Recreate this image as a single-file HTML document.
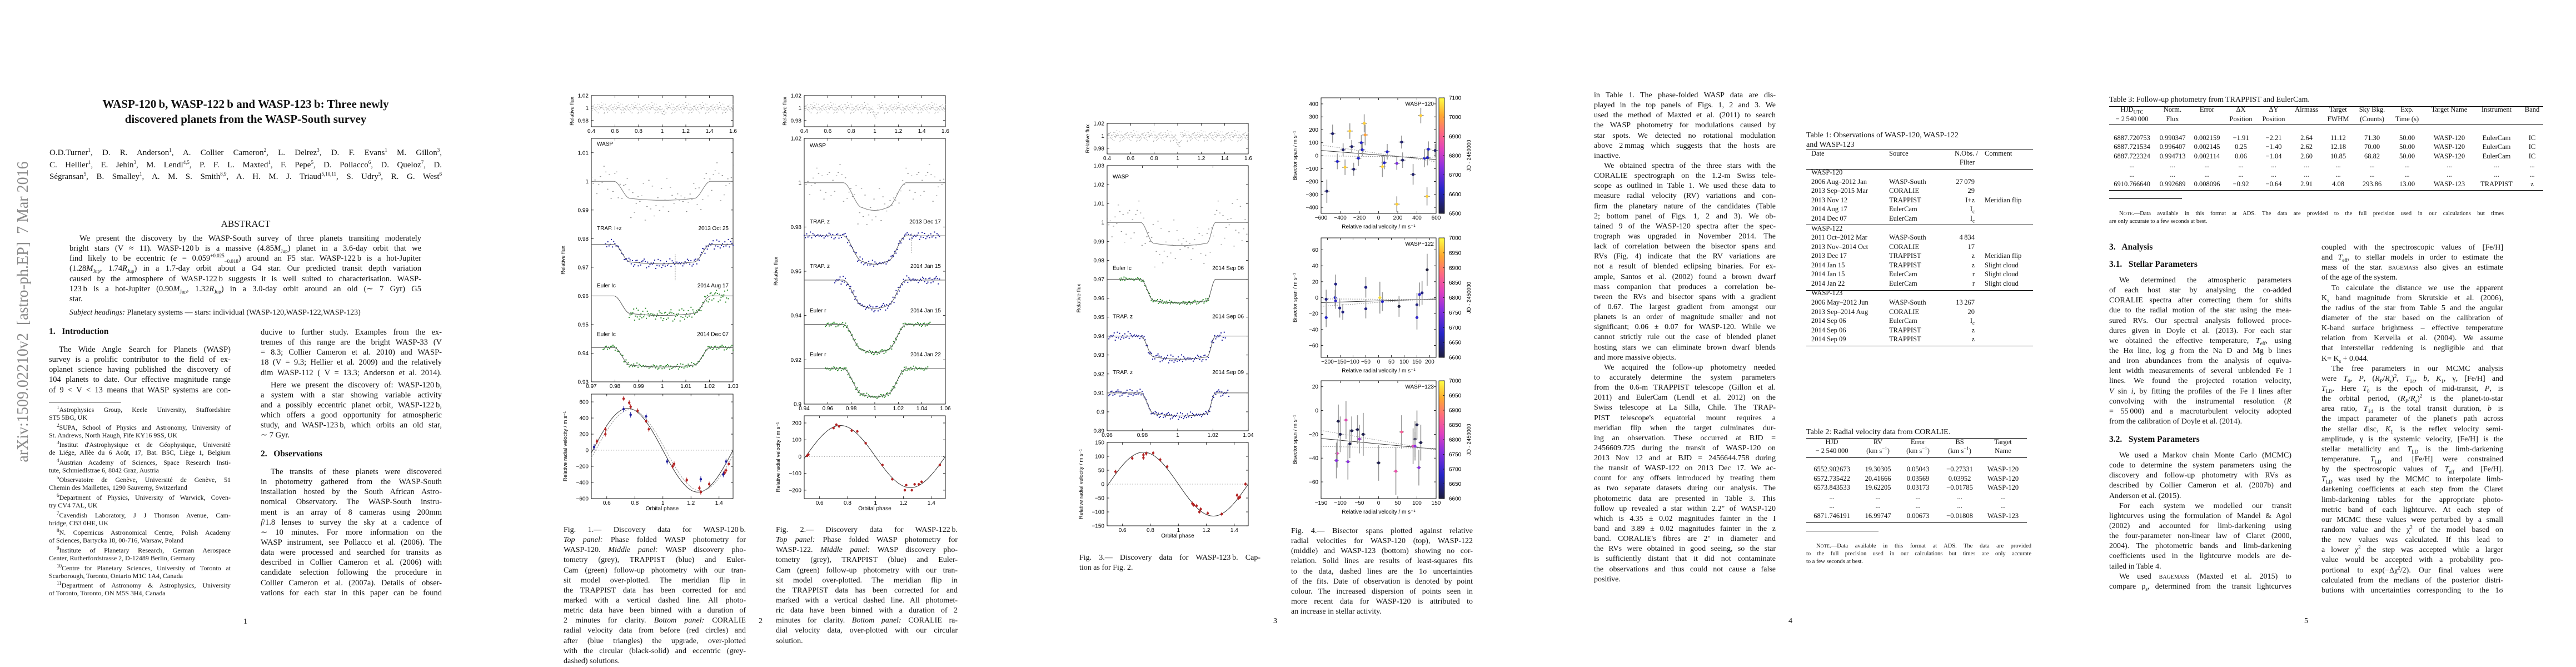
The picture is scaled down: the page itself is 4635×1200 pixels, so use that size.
<!DOCTYPE html>
<html><head><meta charset="utf-8">
<style>
html,body{margin:0;padding:0;background:#fff;}
body{width:4635px;height:1200px;position:relative;overflow:hidden;font-family:"Liberation Serif",serif;color:#111;}
.page{position:absolute;top:0;height:1200px;}
.a{position:absolute;white-space:nowrap;}
.col{position:absolute;}
.l{height:18.15px;line-height:18.15px;text-align:justify;text-align-last:justify;overflow:hidden;font-size:14px;}
.p1 .l{font-size:14.5px;}
.e{text-align-last:left;}
.i{text-indent:18px;}
.fn{position:absolute;left:88px;width:327px;font-size:12px;}
.fn div{height:14.3px;line-height:14.3px;text-align:justify;text-align-last:justify;overflow:hidden;}
.fn div.e{text-align-last:left;}
.fn div.i{text-indent:14px;}
.h{font-weight:bold;font-size:15.5px;}
.pn{font-size:14px;}
.c{position:absolute;transform:translateX(-50%);white-space:nowrap;font-size:12.5px;}
.r{position:absolute;transform:translateX(-100%);white-space:nowrap;font-size:12.5px;}
.tl{position:absolute;white-space:nowrap;font-size:12.5px;}
.rule{position:absolute;height:0;border-top:1px solid #000;}
.rule2{position:absolute;height:0;border-top:1.5px solid #000;}
.note{position:absolute;font-size:10.5px;}
.note div{height:14.5px;line-height:14.5px;text-align:justify;text-align-last:justify;}
.note div.e{text-align-last:left;}
sup{font-size:9px;line-height:0;}
sub{font-size:9px;line-height:0;}
</style></head>
<body>

<!-- PAGE 1 -->
<div class="page p1" style="left:0;width:900px;">
  <div class="a" style="left:-250px;top:544px;width:584px;height:34px;line-height:34px;text-align:center;font-size:28px;color:#8a8a8a;transform:rotate(-90deg);">arXiv:1509.02210v2&nbsp; [astro-ph.EP]&nbsp; 7 Mar 2016</div>
  <div class="a" style="left:0;width:884px;top:174px;text-align:center;font-size:21px;line-height:27px;font-weight:bold;">WASP-120&#8201;b, WASP-122&#8201;b and WASP-123&#8201;b: Three newly<br>discovered planets from the WASP-South survey</div>
  <div class="col" style="left:89px;top:265px;width:706px;">
    <div class="l" style="height:21.5px;line-height:21.5px;font-size:15px;">O.D.Turner<sup>1</sup>, D. R. Anderson<sup>1</sup>, A. Collier Cameron<sup>2</sup>, L. Delrez<sup>3</sup>, D. F. Evans<sup>1</sup> M. Gillon<sup>3</sup>,</div>
    <div class="l" style="height:21.5px;line-height:21.5px;font-size:15px;">C. Hellier<sup>1</sup>, E. Jehin<sup>3</sup>, M. Lendl<sup>4,5</sup>, P. F. L. Maxted<sup>1</sup>, F. Pepe<sup>5</sup>, D. Pollacco<sup>6</sup>, D. Queloz<sup>7</sup>, D.</div>
    <div class="l" style="height:21.5px;line-height:21.5px;font-size:15px;">Ségransan<sup>5</sup>, B. Smalley<sup>1</sup>, A. M. S. Smith<sup>8,9</sup>, A. H. M. J. Triaud<sup>5,10,11</sup>, S. Udry<sup>5</sup>, R. G. West<sup>6</sup></div>
  </div>
  <div class="a" style="left:0;width:884px;top:393px;text-align:center;font-size:17px;">ABSTRACT</div>
  <div class="col" style="left:125px;top:420px;width:633px;">
    <div class="l i">We present the discovery by the WASP-South survey of three planets transiting moderately</div>
    <div class="l">bright stars (V &#8776; 11). WASP-120&#8201;b is a massive (4.85<i>M</i><sub>Jup</sub>) planet in a 3.6-day orbit that we</div>
    <div class="l">find likely to be eccentric (<i>e</i> = 0.059<sup>+0.025</sup><sub>&#8722;0.018</sub>) around an F5 star. WASP-122&#8201;b is a hot-Jupiter</div>
    <div class="l">(1.28<i>M</i><sub>Jup</sub>, 1.74<i>R</i><sub>Jup</sub>) in a 1.7-day orbit about a G4 star. Our predicted transit depth variation</div>
    <div class="l">caused by the atmosphere of WASP-122&#8201;b suggests it is well suited to characterisation. WASP-</div>
    <div class="l">123&#8201;b is a hot-Jupiter (0.90<i>M</i><sub>Jup</sub>, 1.32<i>R</i><sub>Jup</sub>) in a 3.0-day orbit around an old (&#8764; 7 Gyr) G5</div>
    <div class="l e">star.</div>
  </div>
  <div class="a" style="left:125px;top:555px;font-size:14px;"><i>Subject headings:</i> Planetary systems — stars: individual (WASP-120,WASP-122,WASP-123)</div>
  <div class="a h" style="left:88px;top:588px;">1.&nbsp;&nbsp; Introduction</div>
  <div class="col" style="left:88px;top:620px;width:327px;">
    <div class="l i">The Wide Angle Search for Planets (WASP)</div>
    <div class="l">survey is a prolific contributor to the field of ex-</div>
    <div class="l">oplanet science having published the discovery of</div>
    <div class="l">104 planets to date. Our effective magnitude range</div>
    <div class="l">of 9 &lt; V &lt; 13 means that WASP systems are con-</div>
  </div>
  <div class="rule" style="left:88px;top:723px;width:130px;"></div>
  <div class="fn" style="top:730px;"><div class="i"><sup>1</sup>Astrophysics Group, Keele University, Staffordshire</div><div class="e">ST5 5BG, UK</div></div>
  <div class="fn" style="top:762px;"><div class="i"><sup>2</sup>SUPA, School of Physics and Astronomy, University of</div><div class="e">St. Andrews, North Haugh, Fife KY16 9SS, UK</div></div>
  <div class="fn" style="top:793px;"><div class="i"><sup>3</sup>Institut d'Astrophysique et de Géophysique, Universitè</div><div>de Liége, Allèe du 6 Août, 17, Bat. B5C, Liège 1, Belgium</div></div>
  <div class="fn" style="top:825px;"><div class="i"><sup>4</sup>Austrian Academy of Sciences, Space Research Insti-</div><div class="e">tute, Schmiedlstrae 6, 8042 Graz, Austria</div></div>
  <div class="fn" style="top:856px;"><div class="i"><sup>5</sup>Observatoire de Genève, Université de Genève, 51</div><div class="e">Chemin des Maillettes, 1290 Sauverny, Switzerland</div></div>
  <div class="fn" style="top:888px;"><div class="i"><sup>6</sup>Department of Physics, University of Warwick, Coven-</div><div class="e">try CV4 7AL, UK</div></div>
  <div class="fn" style="top:920px;"><div class="i"><sup>7</sup>Cavendish Laboratory, J J Thomson Avenue, Cam-</div><div class="e">bridge, CB3 0HE, UK</div></div>
  <div class="fn" style="top:951px;"><div class="i"><sup>8</sup>N. Copernicus Astronomical Centre, Polish Academy</div><div class="e">of Sciences, Bartycka 18, 00-716, Warsaw, Poland</div></div>
  <div class="fn" style="top:983px;"><div class="i"><sup>9</sup>Institute of Planetary Research, German Aerospace</div><div class="e">Center, Rutherfordstrasse 2, D-12489 Berlin, Germany</div></div>
  <div class="fn" style="top:1015px;"><div class="i"><sup>10</sup>Centre for Planetary Sciences, University of Toronto at</div><div class="e">Scarborough, Toronto, Ontario M1C 1A4, Canada</div></div>
  <div class="fn" style="top:1046px;"><div class="i"><sup>11</sup>Department of Astronomy &amp; Astrophysics, University</div><div class="e">of Toronto, Toronto, ON M5S 3H4, Canada</div></div>
  <div class="col" style="left:469px;top:589px;width:326px;">
    <div class="l">ducive to further study. Examples from the ex-</div>
    <div class="l">tremes of this range are the bright WASP-33 (V</div>
    <div class="l">= 8.3; Collier Cameron et al. 2010) and WASP-</div>
    <div class="l">18 (V = 9.3; Hellier et al. 2009) and the relatively</div>
    <div class="l">dim WASP-112 ( V = 13.3; Anderson et al. 2014).</div>
    <div class="l i" style="margin-top:4px;">Here we present the discovery of: WASP-120&#8201;b,</div>
    <div class="l">a system with a star showing variable activity</div>
    <div class="l">and a possibly eccentric planet orbit, WASP-122&#8201;b,</div>
    <div class="l">which offers a good opportunity for atmospheric</div>
    <div class="l">study, and WASP-123&#8201;b, which orbits an old star,</div>
    <div class="l e">&#8764; 7 Gyr.</div>
  </div>
  <div class="a h" style="left:469px;top:808px;">2.&nbsp;&nbsp; Observations</div>
  <div class="col" style="left:469px;top:840px;width:326px;">
    <div class="l i">The transits of these planets were discovered</div>
    <div class="l">in photometry gathered from the WASP-South</div>
    <div class="l">installation hosted by the South African Astro-</div>
    <div class="l">nomical Observatory. The WASP-South instru-</div>
    <div class="l">ment is an array of 8 cameras using 200mm</div>
    <div class="l"><i>f</i>/1.8 lenses to survey the sky at a cadence of</div>
    <div class="l">&#8764; 10 minutes. For more information on the</div>
    <div class="l">WASP instrument, see Pollacco et al. (2006). The</div>
    <div class="l">data were processed and searched for transits as</div>
    <div class="l">described in Collier Cameron et al. (2006) with</div>
    <div class="l">candidate selection following the procedure in</div>
    <div class="l">Collier Cameron et al. (2007a). Details of obser-</div>
    <div class="l">vations for each star in this paper can be found</div>
  </div>
  <div class="a pn" style="left:438px;top:1111px;">1</div>
</div>

<!-- PAGE 2 -->
<div class="page" style="left:900px;width:930px;">
  <div class="col" style="left:114px;top:945px;width:328px;">
    <div class="l">Fig. 1.— Discovery data for WASP-120&#8201;b.</div>
    <div class="l"><i>Top panel:</i> Phase folded WASP photometry for</div>
    <div class="l">WASP-120. <i>Middle panel:</i> WASP discovery pho-</div>
    <div class="l">tometry (grey), TRAPPIST (blue) and Euler-</div>
    <div class="l">Cam (green) follow-up photometry with our tran-</div>
    <div class="l">sit model over-plotted. The meridian flip in</div>
    <div class="l">the TRAPPIST data has been corrected for and</div>
    <div class="l">marked with a vertical dashed line. All photo-</div>
    <div class="l">metric data have been binned with a duration of</div>
    <div class="l">2 minutes for clarity. <i>Bottom panel:</i> CORALIE</div>
    <div class="l">radial velocity data from before (red circles) and</div>
    <div class="l">after (blue triangles) the upgrade, over-plotted</div>
    <div class="l">with the circular (black-solid) and eccentric (grey-</div>
    <div class="l e">dashed) solutions.</div>
  </div>
  <div class="col" style="left:496px;top:945px;width:327px;">
    <div class="l">Fig. 2.— Discovery data for WASP-122&#8201;b.</div>
    <div class="l"><i>Top panel:</i> Phase folded WASP photometry for</div>
    <div class="l">WASP-122. <i>Middle panel:</i> WASP discovery pho-</div>
    <div class="l">tometry (grey), TRAPPIST (blue) and Euler-</div>
    <div class="l">Cam (green) follow-up photometry with our tran-</div>
    <div class="l">sit model over-plotted. The meridian flip in</div>
    <div class="l">the TRAPPIST data has been corrected for and</div>
    <div class="l">marked with a vertical dashed line. All photomet-</div>
    <div class="l">ric data have been binned with a duration of 2</div>
    <div class="l">minutes for clarity. <i>Bottom panel:</i> CORALIE ra-</div>
    <div class="l">dial velocity data, over-plotted with our circular</div>
    <div class="l e">solution.</div>
  </div>
  <div class="a pn" style="left:465px;top:1110px;">2</div>
</div>

<!-- PAGE 3 -->
<div class="page" style="left:1850px;width:930px;">
  <div class="col" style="left:92px;top:995px;width:326px;">
    <div class="l">Fig. 3.— Discovery data for WASP-123&#8201;b. Cap-</div>
    <div class="l e">tion as for Fig. 2.</div>
  </div>
  <div class="col" style="left:473px;top:947px;width:327px;">
    <div class="l">Fig. 4.— Bisector spans plotted against relative</div>
    <div class="l">radial velocities for WASP-120 (top), WASP-122</div>
    <div class="l">(middle) and WASP-123 (bottom) showing no cor-</div>
    <div class="l">relation. Solid lines are results of least-squares fits</div>
    <div class="l">to the data, dashed lines are the 1&#963; uncertainties</div>
    <div class="l">of the fits. Date of observation is denoted by point</div>
    <div class="l">colour. The increased dispersion of points seen in</div>
    <div class="l">more recent data for WASP-120 is attributed to</div>
    <div class="l e">an increase in stellar activity.</div>
  </div>
  <div class="a pn" style="left:441px;top:1110px;">3</div>
</div>

<!-- PAGE 4 -->
<div class="page" style="left:2780px;width:930px;">
  <div class="col" style="left:88px;top:163px;width:327px;">
    <div class="l">in Table 1. The phase-folded WASP data are dis-</div>
    <div class="l">played in the top panels of Figs. 1, 2 and 3. We</div>
    <div class="l">used the method of Maxted et al. (2011) to search</div>
    <div class="l">the WASP photometry for modulations caused by</div>
    <div class="l">star spots. We detected no rotational modulation</div>
    <div class="l">above 2&#8201;mmag which suggests that the hosts are</div>
    <div class="l e">inactive.</div>
    <div class="l i">We obtained spectra of the three stars with the</div>
    <div class="l">CORALIE spectrograph on the 1.2-m Swiss tele-</div>
    <div class="l">scope as outlined in Table 1. We used these data to</div>
    <div class="l">measure radial velocity (RV) variations and con-</div>
    <div class="l">firm the planetary nature of the candidates (Table</div>
    <div class="l">2; bottom panel of Figs. 1, 2 and 3). We ob-</div>
    <div class="l">tained 9 of the WASP-120 spectra after the spec-</div>
    <div class="l">trograph was upgraded in November 2014. The</div>
    <div class="l">lack of correlation between the bisector spans and</div>
    <div class="l">RVs (Fig. 4) indicate that the RV variations are</div>
    <div class="l">not a result of blended eclipsing binaries. For ex-</div>
    <div class="l">ample, Santos et al. (2002) found a brown dwarf</div>
    <div class="l">mass companion that produces a correlation be-</div>
    <div class="l">tween the RVs and bisector spans with a gradient</div>
    <div class="l">of 0.67. The largest gradient from amongst our</div>
    <div class="l">planets is an order of magnitude smaller and not</div>
    <div class="l">significant; 0.06 &#177; 0.07 for WASP-120. While we</div>
    <div class="l">cannot strictly rule out the case of blended planet</div>
    <div class="l">hosting stars we can eliminate brown dwarf blends</div>
    <div class="l e">and more massive objects.</div>
    <div class="l i">We acquired the follow-up photometry needed</div>
    <div class="l">to accurately determine the system parameters</div>
    <div class="l">from the 0.6-m TRAPPIST telescope (Gillon et al.</div>
    <div class="l">2011) and EulerCam (Lendl et al. 2012) on the</div>
    <div class="l">Swiss telescope at La Silla, Chile. The TRAP-</div>
    <div class="l">PIST telescope's equatorial mount requires a</div>
    <div class="l">meridian flip when the target culminates dur-</div>
    <div class="l">ing an observation. These occurred at BJD =</div>
    <div class="l">2456609.725 during the transit of WASP-120 on</div>
    <div class="l">2013 Nov 12 and at BJD = 2456644.758 during</div>
    <div class="l">the transit of WASP-122 on 2013 Dec 17. We ac-</div>
    <div class="l">count for any offsets introduced by treating them</div>
    <div class="l">as two separate datasets during our analysis. The</div>
    <div class="l">photometric data are presented in Table 3. This</div>
    <div class="l">follow up revealed a star within 2.2" of WASP-120</div>
    <div class="l">which is 4.35 &#177; 0.02 magnitudes fainter in the I</div>
    <div class="l">band and 3.89 &#177; 0.02 magnitudes fainter in the z</div>
    <div class="l">band. CORALIE's fibres are 2" in diameter and</div>
    <div class="l">the RVs were obtained in good seeing, so the star</div>
    <div class="l">is sufficiently distant that it did not contaminate</div>
    <div class="l">the observations and thus could not cause a false</div>
    <div class="l e">positive.</div>
  </div>

  <div>
    <div class="tl" style="left:470px;top:236px;font-size:14px;">Table 1: Observations of WASP-120, WASP-122</div>
    <div class="tl" style="left:470px;top:253px;font-size:14px;">and WASP-123</div>
    <div class="rule" style="left:470px;top:269px;width:408px;"></div>
    <div class="tl" style="left:479px;top:269px;">Date</div><div class="tl" style="left:619px;top:269px;">Source</div><div class="r" style="left:779px;top:269px;">N.Obs. /</div><div class="tl" style="left:791px;top:269px;">Comment</div>
    <div class="r" style="left:773px;top:285px;">Filter</div>
    <div class="rule2" style="left:470px;top:304px;width:408px;"></div>
    <div class="tl" style="left:479px;top:303px;">WASP-120</div>
    <div class="tl" style="left:479px;top:320px;">2006 Aug–2012 Jan</div><div class="tl" style="left:619px;top:320px;">WASP-South</div><div class="r" style="left:773px;top:320px;">27&#8201;079</div>
    <div class="tl" style="left:479px;top:336px;">2013 Sep–2015 Mar</div><div class="tl" style="left:619px;top:336px;">CORALIE</div><div class="r" style="left:773px;top:336px;">29</div>
    <div class="tl" style="left:479px;top:353px;">2013 Nov 12</div><div class="tl" style="left:619px;top:353px;">TRAPPIST</div><div class="r" style="left:773px;top:353px;">I+z</div><div class="tl" style="left:791px;top:353px;">Meridian flip</div>
    <div class="tl" style="left:479px;top:369px;">2014 Aug 17</div><div class="tl" style="left:619px;top:369px;">EulerCam</div><div class="r" style="left:773px;top:369px;">I<sub>c</sub></div>
    <div class="tl" style="left:479px;top:386px;">2014 Dec 07</div><div class="tl" style="left:619px;top:386px;">EulerCam</div><div class="r" style="left:773px;top:386px;">I<sub>c</sub></div>
    <div class="rule" style="left:470px;top:404px;width:408px;"></div>
    <div class="tl" style="left:479px;top:404px;">WASP-122</div>
    <div class="tl" style="left:479px;top:420px;">2011 Oct–2012 Mar</div><div class="tl" style="left:619px;top:420px;">WASP-South</div><div class="r" style="left:773px;top:420px;">4&#8201;834</div>
    <div class="tl" style="left:479px;top:437px;">2013 Nov–2014 Oct</div><div class="tl" style="left:619px;top:437px;">CORALIE</div><div class="r" style="left:773px;top:437px;">17</div>
    <div class="tl" style="left:479px;top:453px;">2013 Dec 17</div><div class="tl" style="left:619px;top:453px;">TRAPPIST</div><div class="r" style="left:773px;top:453px;">z</div><div class="tl" style="left:791px;top:453px;">Meridian flip</div>
    <div class="tl" style="left:479px;top:470px;">2014 Jan 15</div><div class="tl" style="left:619px;top:470px;">TRAPPIST</div><div class="r" style="left:773px;top:470px;">z</div><div class="tl" style="left:791px;top:470px;">Slight cloud</div>
    <div class="tl" style="left:479px;top:486px;">2014 Jan 15</div><div class="tl" style="left:619px;top:486px;">EulerCam</div><div class="r" style="left:773px;top:486px;">r</div><div class="tl" style="left:791px;top:486px;">Slight cloud</div>
    <div class="tl" style="left:479px;top:503px;">2014 Jan 22</div><div class="tl" style="left:619px;top:503px;">EulerCam</div><div class="r" style="left:773px;top:503px;">r</div><div class="tl" style="left:791px;top:503px;">Slight cloud</div>
    <div class="rule" style="left:470px;top:522px;width:408px;"></div>
    <div class="tl" style="left:479px;top:520px;">WASP-123</div>
    <div class="tl" style="left:479px;top:537px;">2006 May–2012 Jun</div><div class="tl" style="left:619px;top:537px;">WASP-South</div><div class="r" style="left:773px;top:537px;">13&#8201;267</div>
    <div class="tl" style="left:479px;top:554px;">2013 Sep–2014 Aug</div><div class="tl" style="left:619px;top:554px;">CORALIE</div><div class="r" style="left:773px;top:554px;">20</div>
    <div class="tl" style="left:479px;top:570px;">2014 Sep 06</div><div class="tl" style="left:619px;top:570px;">EulerCam</div><div class="r" style="left:773px;top:570px;">I<sub>c</sub></div>
    <div class="tl" style="left:479px;top:587px;">2014 Sep 06</div><div class="tl" style="left:619px;top:587px;">TRAPPIST</div><div class="r" style="left:773px;top:587px;">z</div>
    <div class="tl" style="left:479px;top:603px;">2014 Sep 09</div><div class="tl" style="left:619px;top:603px;">TRAPPIST</div><div class="r" style="left:773px;top:603px;">z</div>
    <div class="rule2" style="left:470px;top:622px;width:408px;"></div>
  </div>

  <div>
    <div class="tl" style="left:470px;top:770px;font-size:14px;">Table 2: Radial velocity data from CORALIE.</div>
    <div class="rule" style="left:470px;top:788px;width:397px;"></div>
    <div class="c" style="left:516px;top:788px;">HJD</div><div class="c" style="left:599px;top:788px;">RV</div><div class="c" style="left:671px;top:788px;">Error</div><div class="c" style="left:746px;top:788px;">BS</div><div class="c" style="left:824px;top:788px;">Target</div>
    <div class="c" style="left:516px;top:804px;">&#8722; 2&#8201;540&#8201;000</div><div class="c" style="left:599px;top:804px;">(km s<sup>&#8722;1</sup>)</div><div class="c" style="left:671px;top:804px;">(km s<sup>&#8722;1</sup>)</div><div class="c" style="left:746px;top:804px;">(km s<sup>&#8722;1</sup>)</div><div class="c" style="left:824px;top:804px;">Name</div>
    <div class="rule" style="left:470px;top:823px;width:397px;"></div>
    <div class="c" style="left:516px;top:837px;">6552.902673</div><div class="c" style="left:599px;top:837px;">19.30305</div><div class="c" style="left:671px;top:837px;">0.05043</div><div class="c" style="left:746px;top:837px;">&#8722;0.27331</div><div class="c" style="left:824px;top:837px;">WASP-120</div>
    <div class="c" style="left:516px;top:854px;">6572.735422</div><div class="c" style="left:599px;top:854px;">20.41666</div><div class="c" style="left:671px;top:854px;">0.03569</div><div class="c" style="left:746px;top:854px;">0.03952</div><div class="c" style="left:824px;top:854px;">WASP-120</div>
    <div class="c" style="left:516px;top:870px;">6573.843533</div><div class="c" style="left:599px;top:870px;">19.62205</div><div class="c" style="left:671px;top:870px;">0.03173</div><div class="c" style="left:746px;top:870px;">&#8722;0.01785</div><div class="c" style="left:824px;top:870px;">WASP-120</div>
    <div class="c" style="left:516px;top:887px;">...</div><div class="c" style="left:599px;top:887px;">...</div><div class="c" style="left:671px;top:887px;">...</div><div class="c" style="left:746px;top:887px;">...</div><div class="c" style="left:824px;top:887px;">...</div>
    <div class="c" style="left:516px;top:903px;">...</div><div class="c" style="left:599px;top:903px;">...</div><div class="c" style="left:671px;top:903px;">...</div><div class="c" style="left:746px;top:903px;">...</div><div class="c" style="left:824px;top:903px;">...</div>
    <div class="c" style="left:516px;top:921px;">6871.746191</div><div class="c" style="left:599px;top:921px;">16.99747</div><div class="c" style="left:671px;top:921px;">0.00673</div><div class="c" style="left:746px;top:921px;">&#8722;0.01808</div><div class="c" style="left:824px;top:921px;">WASP-123</div>
    <div class="rule" style="left:470px;top:940px;width:397px;"></div>
    <div class="rule" style="left:470px;top:955px;width:130px;"></div>
    <div class="note" style="left:470px;top:975px;width:405px;"><div style="text-indent:18px;">N<span style="font-size:8.5px;">OTE</span>.—Data available in this format at ADS. The data are provided</div><div>to the full precision used in our calculations but times are only accurate</div><div class="e">to a few seconds at best.</div></div>
  </div>
  <div class="a pn" style="left:438px;top:1110px;">4</div>
</div>

<!-- PAGE 5 -->
<div class="page" style="left:3705px;width:930px;">
  <div>
    <div class="tl" style="left:90px;top:172px;font-size:14px;">Table 3: Follow-up photometry from TRAPPIST and EulerCam.</div>
    <div class="rule" style="left:90px;top:191px;width:781px;"></div>
    <div class="c" style="left:131px;top:190px;">HJD<sub>UTC</sub></div><div class="c" style="left:204px;top:190px;">Norm.</div><div class="c" style="left:266px;top:190px;">Error</div><div class="c" style="left:327px;top:190px;">&#916;X</div><div class="c" style="left:386px;top:190px;">&#916;Y</div><div class="c" style="left:445px;top:190px;">Airmass</div><div class="c" style="left:502px;top:190px;">Target</div><div class="c" style="left:563px;top:190px;">Sky Bkg.</div><div class="c" style="left:626px;top:190px;">Exp.</div><div class="c" style="left:702px;top:190px;">Target Name</div><div class="c" style="left:787px;top:190px;">Instrument</div><div class="c" style="left:851px;top:190px;">Band</div>
    <div class="c" style="left:131px;top:207px;">&#8722; 2&#8201;540&#8201;000</div><div class="c" style="left:204px;top:207px;">Flux</div><div class="c" style="left:327px;top:207px;">Position</div><div class="c" style="left:386px;top:207px;">Position</div><div class="c" style="left:502px;top:207px;">FWHM</div><div class="c" style="left:563px;top:207px;">(Counts)</div><div class="c" style="left:626px;top:207px;">Time (s)</div>
    <div class="rule" style="left:90px;top:224px;width:781px;"></div>
    <div class="c" style="left:131px;top:241px;">6887.720753</div><div class="c" style="left:204px;top:241px;">0.990347</div><div class="c" style="left:266px;top:241px;">0.002159</div><div class="c" style="left:327px;top:241px;">&#8722;1.91</div><div class="c" style="left:386px;top:241px;">&#8722;2.21</div><div class="c" style="left:445px;top:241px;">2.64</div><div class="c" style="left:502px;top:241px;">11.12</div><div class="c" style="left:563px;top:241px;">71.30</div><div class="c" style="left:626px;top:241px;">50.00</div><div class="c" style="left:702px;top:241px;">WASP-120</div><div class="c" style="left:787px;top:241px;">EulerCam</div><div class="c" style="left:851px;top:241px;">IC</div>
    <div class="c" style="left:131px;top:257px;">6887.721534</div><div class="c" style="left:204px;top:257px;">0.996407</div><div class="c" style="left:266px;top:257px;">0.002145</div><div class="c" style="left:327px;top:257px;">0.25</div><div class="c" style="left:386px;top:257px;">&#8722;1.40</div><div class="c" style="left:445px;top:257px;">2.62</div><div class="c" style="left:502px;top:257px;">12.18</div><div class="c" style="left:563px;top:257px;">70.00</div><div class="c" style="left:626px;top:257px;">50.00</div><div class="c" style="left:702px;top:257px;">WASP-120</div><div class="c" style="left:787px;top:257px;">EulerCam</div><div class="c" style="left:851px;top:257px;">IC</div>
    <div class="c" style="left:131px;top:274px;">6887.722324</div><div class="c" style="left:204px;top:274px;">0.994713</div><div class="c" style="left:266px;top:274px;">0.002114</div><div class="c" style="left:327px;top:274px;">0.06</div><div class="c" style="left:386px;top:274px;">&#8722;1.04</div><div class="c" style="left:445px;top:274px;">2.60</div><div class="c" style="left:502px;top:274px;">10.85</div><div class="c" style="left:563px;top:274px;">68.82</div><div class="c" style="left:626px;top:274px;">50.00</div><div class="c" style="left:702px;top:274px;">WASP-120</div><div class="c" style="left:787px;top:274px;">EulerCam</div><div class="c" style="left:851px;top:274px;">IC</div>
    <div class="c" style="left:131px;top:290px;">...</div><div class="c" style="left:204px;top:290px;">...</div><div class="c" style="left:266px;top:290px;">...</div><div class="c" style="left:327px;top:290px;">...</div><div class="c" style="left:386px;top:290px;">...</div><div class="c" style="left:445px;top:290px;">...</div><div class="c" style="left:502px;top:290px;">...</div><div class="c" style="left:563px;top:290px;">...</div><div class="c" style="left:626px;top:290px;">...</div><div class="c" style="left:702px;top:290px;">...</div><div class="c" style="left:787px;top:290px;">...</div><div class="c" style="left:851px;top:290px;">...</div>
    <div class="c" style="left:131px;top:307px;">...</div><div class="c" style="left:204px;top:307px;">...</div><div class="c" style="left:266px;top:307px;">...</div><div class="c" style="left:327px;top:307px;">...</div><div class="c" style="left:386px;top:307px;">...</div><div class="c" style="left:445px;top:307px;">...</div><div class="c" style="left:502px;top:307px;">...</div><div class="c" style="left:563px;top:307px;">...</div><div class="c" style="left:626px;top:307px;">...</div><div class="c" style="left:702px;top:307px;">...</div><div class="c" style="left:787px;top:307px;">...</div><div class="c" style="left:851px;top:307px;">...</div>
    <div class="c" style="left:131px;top:324px;">6910.766640</div><div class="c" style="left:204px;top:324px;">0.992689</div><div class="c" style="left:266px;top:324px;">0.008096</div><div class="c" style="left:327px;top:324px;">&#8722;0.92</div><div class="c" style="left:386px;top:324px;">&#8722;0.64</div><div class="c" style="left:445px;top:324px;">2.91</div><div class="c" style="left:502px;top:324px;">4.08</div><div class="c" style="left:563px;top:324px;">293.86</div><div class="c" style="left:626px;top:324px;">13.00</div><div class="c" style="left:702px;top:324px;">WASP-123</div><div class="c" style="left:787px;top:324px;">TRAPPIST</div><div class="c" style="left:851px;top:324px;">z</div>
    <div class="rule" style="left:90px;top:342px;width:781px;"></div>
    <div class="rule" style="left:90px;top:357px;width:131px;"></div>
    <div class="note" style="left:90px;top:377px;width:710px;"><div style="text-indent:18px;">N<span style="font-size:8.5px;">OTE</span>.—Data available in this format at ADS. The data are provided to the full precision used in our calculations but times</div><div class="e">are only accurate to a few seconds at best.</div></div>
  </div>
  <div class="a h" style="left:90px;top:436px;">3.&nbsp;&nbsp; Analysis</div>
  <div class="a h" style="left:90px;top:467px;">3.1.&nbsp;&nbsp; Stellar Parameters</div>
  <div class="col" style="left:90px;top:496px;width:328px;">
    <div class="l i">We determined the atmospheric parameters</div>
    <div class="l">of each host star by analysing the co-added</div>
    <div class="l">CORALIE spectra after correcting them for shifts</div>
    <div class="l">due to the radial motion of the star using the mea-</div>
    <div class="l">sured RVs. Our spectral analysis followed proce-</div>
    <div class="l">dures given in Doyle et al. (2013). For each star</div>
    <div class="l">we obtained the effective temperature, <i>T</i><sub>eff</sub>, using</div>
    <div class="l">the H&#945; line, log <i>g</i> from the Na D and Mg b lines</div>
    <div class="l">and iron abundances from the analysis of equiva-</div>
    <div class="l">lent width measurements of several unblended Fe I</div>
    <div class="l">lines. We found the projected rotation velocity,</div>
    <div class="l"><i>V</i> sin <i>i</i>, by fitting the profiles of the Fe I lines after</div>
    <div class="l">convolving with the instrumental resolution (<i>R</i></div>
    <div class="l">= 55&#8201;000) and a macroturbulent velocity adopted</div>
    <div class="l e">from the calibration of Doyle et al. (2014).</div>
  </div>
  <div class="a h" style="left:90px;top:782px;">3.2.&nbsp;&nbsp; System Parameters</div>
  <div class="col" style="left:90px;top:811px;width:328px;">
    <div class="l i">We used a Markov chain Monte Carlo (MCMC)</div>
    <div class="l">code to determine the system parameters using the</div>
    <div class="l">discovery and follow-up photometry with RVs as</div>
    <div class="l">described by Collier Cameron et al. (2007b) and</div>
    <div class="l e">Anderson et al. (2015).</div>
    <div class="l i">For each system we modelled our transit</div>
    <div class="l">lightcurves using the formulation of Mandel &amp; Agol</div>
    <div class="l">(2002) and accounted for limb-darkening using</div>
    <div class="l">the four-parameter non-linear law of Claret (2000,</div>
    <div class="l">2004). The photometric bands and limb-darkening</div>
    <div class="l">coefficients used in the lightcurve models are de-</div>
    <div class="l e">tailed in Table 4.</div>
    <div class="l i">We used <span style="font-variant:small-caps;">bagemass</span> (Maxted et al. 2015) to</div>
    <div class="l">compare &#961;<sub>s</sub>, determined from the transit lightcurves</div>
  </div>
  <div class="col" style="left:472px;top:437px;width:327px;">
    <div class="l">coupled with the spectroscopic values of [Fe/H]</div>
    <div class="l">and <i>T</i><sub>eff</sub>, to stellar models in order to estimate the</div>
    <div class="l">mass of the star. <span style="font-variant:small-caps;">bagemass</span> also gives an estimate</div>
    <div class="l e">of the age of the system.</div>
    <div class="l i">To calculate the distance we use the apparent</div>
    <div class="l">K<sub>s</sub> band magnitude from Skrutskie et al. (2006),</div>
    <div class="l">the radius of the star from Table 5 and the angular</div>
    <div class="l">diameter of the star based on the calibration of</div>
    <div class="l">K-band surface brightness – effective temperature</div>
    <div class="l">relation from Kervella et al. (2004). We assume</div>
    <div class="l">that interstellar reddening is negligible and that</div>
    <div class="l e">K= K<sub>s</sub> + 0.044.</div>
    <div class="l i">The free parameters in our MCMC analysis</div>
    <div class="l">were <i>T</i><sub>0</sub>, <i>P</i>, (<i>R<sub>P</sub></i>/<i>R<sub>s</sub></i>)<sup>2</sup>, <i>T</i><sub>14</sub>, <i>b</i>, <i>K</i><sub>1</sub>, &#947;, [Fe/H] and</div>
    <div class="l"><i>T</i><sub>LD</sub>. Here <i>T</i><sub>0</sub> is the epoch of mid-transit, <i>P</i>, is</div>
    <div class="l">the orbital period, (<i>R<sub>P</sub></i>/<i>R<sub>s</sub></i>)<sup>2</sup> is the planet-to-star</div>
    <div class="l">area ratio, <i>T</i><sub>14</sub> is the total transit duration, <i>b</i> is</div>
    <div class="l">the impact parameter of the planet's path across</div>
    <div class="l">the stellar disc, <i>K</i><sub>1</sub> is the reflex velocity semi-</div>
    <div class="l">amplitude, &#947; is the systemic velocity, [Fe/H] is the</div>
    <div class="l">stellar metallicity and <i>T</i><sub>LD</sub> is the limb-darkening</div>
    <div class="l">temperature. <i>T</i><sub>LD</sub> and [Fe/H] were constrained</div>
    <div class="l">by the spectroscopic values of <i>T</i><sub>eff</sub> and [Fe/H].</div>
    <div class="l"><i>T</i><sub>LD</sub> was used by the MCMC to interpolate limb-</div>
    <div class="l">darkening coefficients at each step from the Claret</div>
    <div class="l">limb-darkening tables for the appropriate photo-</div>
    <div class="l">metric band of each lightcurve. At each step of</div>
    <div class="l">our MCMC these values were perturbed by a small</div>
    <div class="l">random value and the &#967;<sup>2</sup> of the model based on</div>
    <div class="l">the new values was calculated. If this lead to</div>
    <div class="l">a lower &#967;<sup>2</sup> the step was accepted while a larger</div>
    <div class="l">value would be accepted with a probability pro-</div>
    <div class="l">portional to exp(&#8722;&#916;&#967;<sup>2</sup>/2). Our final values were</div>
    <div class="l">calculated from the medians of the posterior distri-</div>
    <div class="l">butions with uncertainties corresponding to the 1&#963;</div>
  </div>
  <div class="a pn" style="left:441px;top:1110px;">5</div>
</div>

<svg id="charts" xmlns="http://www.w3.org/2000/svg" width="4635" height="1200" style="position:absolute;left:0;top:0;" font-family="Liberation Sans, sans-serif">
  <defs>
    <linearGradient id="cmap" x1="0" y1="1" x2="0" y2="0">
      <stop offset="0" stop-color="#1e1e3c"/><stop offset="0.2" stop-color="#2424c8"/><stop offset="0.4" stop-color="#8a30e0"/><stop offset="0.55" stop-color="#e040c0"/><stop offset="0.7" stop-color="#ff6a80"/><stop offset="0.85" stop-color="#ffa830"/><stop offset="1" stop-color="#ffff44"/>
    </linearGradient>
  </defs>
</svg>

<script>
// ---------- shared noise table (hand-typed residual pattern) ----------
const RES=[0.3,-0.8,1.2,-0.2,0.6,-1.4,0.1,0.9,-0.5,-1.1,1.6,0.2,-0.3,0.7,-0.9,0.4,-1.7,1.0,-0.1,0.5,-0.6,1.3,-1.2,0.0,0.8,-0.4,1.9,-0.7,0.2,-1.0,0.6,-0.2,1.1,-1.5,0.3,0.4,-0.9,1.4,-0.3,0.7,-1.8,0.1,0.9,-0.6,0.5,-1.2,1.7,-0.1,0.2,-0.8];

// ---------- Figure 1 (WASP-120) ----------
const f1TopXTicks=[0.4,0.6,0.8,1,1.2,1.4,1.6];
const f1TopYTicks=[0.98,1,1.02];
const f1MidXTicks=[0.97,0.98,0.99,1,1.01,1.02,1.03];
const f1MidYTicks=[0.93,0.94,0.95,0.96,0.97,0.98,0.99,1,1.01];
const f1Names=['WASP','TRAP. I+z','Euler I\u1D04','Euler I\u1D04'];
const f1Dates=['','2013 Oct 25','2014 Aug 17','2014 Dec 07'];
const f1Base=[1,0.978,0.960,0.942];
const f1Depth=[0.0066,0.0068,0.0068,0.0068];
const f1LabelY=[1.0125,0.983,0.963,0.946];
const f1Noise=[4.0,0.9,1.2,0.5];
const f1Start=[0.97,0.976,0.986,0.975];
const f1End=[1.03,1.03,1.028,1.03];
const f1Count=[80,110,110,120];
const f1Contacts=[0.9795,0.9865,1.0135,1.0205];
const f1RvXTicks=[0.6,0.8,1,1.2,1.4];
const f1RvYTicks=[-600,-400,-200,0,200,400,600];
const f1K=[520];
const f1RvPhaseRed=[0.53,0.59,0.59,0.72,0.76,0.77,0.82,0.88,0.90,1.07,1.08,1.17,1.26,1.27,1.33,1.44,1.45,1.47];
const f1RvRed=[110,200,260,640,590,540,490,360,260,-200,-170,-370,-470,-520,-420,-280,-250,-170];
const f1RvPhaseBlue=[0.51,0.72,0.77,0.88,1.03,1.27,1.43,1.45];
const f1RvBlue=[40,510,440,420,-140,-360,-300,-140];

// ---------- Figure 2 (WASP-122) ----------
const f2TopXTicks=[0.4,0.6,0.8,1,1.2,1.4,1.6];
const f2TopYTicks=[0.98,1,1.02];
const f2MidXTicks=[0.94,0.96,0.98,1,1.02,1.04,1.06];
const f2MidYTicks=[0.9,0.92,0.94,0.96,0.98,1,1.02];
const f2Names=['WASP','TRAP. z','TRAP. z','Euler r','Euler r'];
const f2Dates=['','2013 Dec 17','2014 Jan 15','2014 Jan 15','2014 Jan 22'];
const f2Base=[1,0.976,0.956,0.936,0.916];
const f2Depth=[0.0125,0.0128,0.0128,0.0128,0.0128];
const f2LabelY=[1.016,0.9816,0.9615,0.9414,0.9216];
const f2Noise=[5.0,0.9,1.0,0.6,0.6];
const f2Start=[0.94,0.94,0.966,0.958,0.958];
const f2End=[1.06,1.055,1.055,1.047,1.045];
const f2Count=[80,110,100,110,110];
const f2Contacts=[0.973,0.9895,1.0105,1.027];
const f2RvXTicks=[0.6,0.8,1,1.2,1.4];
const f2RvYTicks=[-200,-100,0,100,200];
const f2K=[185];
const f2RvPhase=[0.51,0.52,0.70,0.72,0.74,0.83,0.87,0.93,1.05,1.12,1.21,1.22,1.26,1.28,1.31,1.33,1.46];
const f2Rv=[5,12,170,190,180,155,150,80,-50,-135,-200,-170,-200,-165,-165,-150,-50];

// ---------- Figure 3 (WASP-123) ----------
const f3TopXTicks=[0.4,0.6,0.8,1,1.2,1.4,1.6];
const f3TopYTicks=[0.98,1,1.02];
const f3MidXTicks=[0.96,0.98,1,1.02,1.04];
const f3MidYTicks=[0.89,0.9,0.91,0.92,0.93,0.94,0.95,0.96,0.97,0.98,0.99,1,1.01,1.02,1.03];
const f3Names=['WASP','Euler I\u1D04','TRAP. z','TRAP. z'];
const f3Dates=['','2014 Sep 06','2014 Sep 06','2014 Sep 09'];
const f3Base=[1,0.970,0.940,0.910];
const f3Depth=[0.0122,0.0125,0.0122,0.0122];
const f3LabelY=[1.0232,0.975,0.9495,0.9199];
const f3Noise=[7.0,0.6,1.2,1.0];
const f3Start=[0.96,0.967,0.961,0.961];
const f3End=[1.04,1.018,1.027,1.029];
const f3Count=[90,100,110,120];
const f3Contacts=[0.979,0.9865,1.0165,1.0215];
const f3RvXTicks=[0.6,0.8,1,1.2,1.4];
const f3RvYTicks=[-150,-100,-50,0,50,100,150];
const f3K=[115];
const f3RvPhase=[0.55,0.67,0.75,0.75,0.77,0.82,0.87,0.92,1.10,1.11,1.13,1.15,1.16,1.21,1.31,1.42,1.43,1.44,1.48];
const f3Rv=[45,93,95,105,110,112,88,63,-70,-75,-78,-100,-90,-105,-108,-40,-50,-47,0];

// ---------- Figure 4 (bisector spans) ----------
const f4aRV=[-540,-480,-430,-370,-350,-300,-280,-260,-210,-180,-170,-150,-140,40,60,90,190,190,240,250,360,440,480,510,520,505,590];
const f4aBS=[-275,170,-45,45,-90,190,70,-105,-20,100,45,250,160,-85,-55,30,-375,-60,105,-35,-145,310,-20,-15,50,-315,40];
const f4aErr=[90,70,60,50,60,60,50,50,60,60,50,70,80,80,50,60,60,50,50,60,80,60,70,60,60,70,50];
const f4aJD=[6540,6540,6620,6540,7050,7050,6540,6540,6620,6620,6620,7050,7000,7050,6620,6620,7050,6720,6540,6540,6540,7050,6620,6620,6620,7050,6540];
const f4aXTicks=[-600,-400,-200,0,200,400,600];
const f4aYTicks=[-400,-300,-200,-100,0,100,200,300,400];
const f4aCbTicks=[6500,6600,6700,6800,6900,7000,7100];
const f4aFit=[5,-0.058,12,0.05];
const f4bRV=[-205,-205,-170,-168,-168,-152,-140,-50,-50,5,15,80,150,150,160,170,190];
const f4bBS=[-2,-25,0,17,-4,-13,-18,13,-14,0,-5,-11,-9,-25,4,6,35];
const f4bErr=[12,12,10,12,10,12,10,13,12,20,12,13,15,15,15,15,20];
const f4bJD=[6640,6680,6680,6640,6690,6640,6640,6640,6640,6980,6680,6600,6640,6690,6690,6640,6600];
const f4bXTicks=[-200,-150,-100,-50,0,50,100,150,200];
const f4bYTicks=[-60,-40,-20,0,20,40,60];
const f4bCbTicks=[6600,6650,6700,6750,6800,6850,6900,6950,7000];
const f4bFit=[-4,0.01,2,0.012];
const f4cRV=[-105,-100,-108,-110,-85,-80,-75,-70,-55,-50,-40,0,45,60,90,95,95,100,105,110];
const f4cBS=[-9,-20,-36,-42,-8,-43,-28,-17,-16,-24,-20,-44,-51,-18,-30,-24,-30,-12,-48,-27];
const f4cErr=[14,15,12,15,16,15,12,12,12,12,18,15,20,14,15,15,12,12,15,15];
const f4cJD=[6610,6610,6830,6760,6830,6760,6610,6610,6610,6780,6610,6610,6840,6860,6830,6610,6760,6610,6760,6610];
const f4cXTicks=[-150,-100,-50,0,50,100,150];
const f4cYTicks=[-60,-40,-20,0,20];
const f4cCbTicks=[6600,6650,6700,6750,6800,6850,6900,6950,7000];
const f4cFit=[-28,-0.03,3,0.025];

// ---------- helpers ----------
const NS='http://www.w3.org/2000/svg';
const SVG=document.getElementById('charts');
function mk(tag,attrs,parent){const e=document.createElementNS(NS,tag);for(const k in attrs)e.setAttribute(k,attrs[k]);parent.appendChild(e);return e;}
function fmt(v){const s=String(Math.round(v*10000)/10000);return s.replace('-','\u2212');}
function frame(g,b,xd,yd,xt,yt,fs){
  const sx=v=>b.x+(v-xd[0])/(xd[1]-xd[0])*b.w;
  const sy=v=>b.y+b.h-(v-yd[0])/(yd[1]-yd[0])*b.h;
  const r=mk('rect',{x:b.x,y:b.y,width:b.w,height:b.h,fill:'none',stroke:'#000','stroke-width':0.9},g);
  
  
  xt.forEach(v=>{const x=sx(v);
    mk('line',{x1:x,y1:b.y+b.h,x2:x,y2:b.y+b.h-4,stroke:'#000','stroke-width':0.8},g);
    mk('line',{x1:x,y1:b.y,x2:x,y2:b.y+4,stroke:'#000','stroke-width':0.8},g);
    const t=mk('text',{x:x,y:b.y+b.h+11,'font-size':fs||10,'text-anchor':'middle',fill:'#000'},g);t.textContent=fmt(v);
    
    
  });
  yt.forEach(v=>{const y=sy(v);
    mk('line',{x1:b.x,y1:y,x2:b.x+4,y2:y,stroke:'#000','stroke-width':0.8},g);
    mk('line',{x1:b.x+b.w,y1:y,x2:b.x+b.w-4,y2:y,stroke:'#000','stroke-width':0.8},g);
    const t=mk('text',{x:b.x-5,y:y+3.5,'font-size':fs||10,'text-anchor':'end',fill:'#000'},g);t.textContent=fmt(v);
    
    
  });
  return {sx,sy};
}
function ylabel(g,x,y,txt,fs){const t=mk('text',{x:0,y:0,'font-size':fs||10,'text-anchor':'middle',transform:`translate(${x},${y}) rotate(-90)`},g);t.textContent=txt;
  
  return t;}
function xlabel(g,x,y,txt,fs){const t=mk('text',{x:x,y:y,'font-size':fs||10,'text-anchor':'middle'},g);t.textContent=txt;
  
  return t;}
function tmodel(t,base,depth,c){
  if(t<=c[0]||t>=c[3])return base;let f;
  if(t<c[1])f=0.9*(1-Math.cos(Math.PI*(t-c[0])/(c[1]-c[0])))/2;
  else if(t>c[2])f=0.9*(1-Math.cos(Math.PI*(c[3]-t)/(c[3]-c[2])))/2;
  else{const u=(t-(c[1]+c[2])/2)/((c[2]-c[1])/2);f=0.9+0.1*(1-u*u);}
  return base-depth*f;
}
const COL={wasp:'#8c8c8c',trap:'#1c1c9c',euler:'#2e8b2e'};

function topPanel(name,b,xt,yt,yd,depth,c){
  const g=mk('g',{},SVG);
  
  
  const ax=frame(g,b,[0.4,1.6],yd,xt,yt,10);
  const n=420;
  for(let i=0;i<n;i++){const t=0.4+1.2*i/(n-1);
    const v=tmodel(t,1,depth,c)+RES[(i*7)%RES.length]*0.0045+RES[(i*3+5)%RES.length]*0.0022;
    mk('rect',{x:ax.sx(t),y:ax.sy(v),width:1.2,height:1,fill:'#9a9a9a'},g);}
  ylabel(g,b.x-32,b.y+b.h/2,'Relative flux',9.5);
  return g;
}
function midPanel(name,b,xd,yd,xt,yt,names,dates,base,depth,labelY,noise,start,end,count,c,colors,flips){
  const g=mk('g',{},SVG);
  
  
  const ax=frame(g,b,xd,yd,xt,yt,10);
  base.forEach((bs,k)=>{
    const col=colors[k];
    for(let i=0;i<count[k];i++){const t=start[k]+(end[k]-start[k])*i/(count[k]-1);
      const v=tmodel(t,bs,depth[k],c)+RES[(i*3+k*11)%RES.length]*noise[k]/1000;
      const m=mk('rect',{x:ax.sx(t)-1,y:ax.sy(v)-1,width:k===0?2.4:2,height:k===0?1.2:2,fill:col},g);
      
      
    }
    let d='';for(let i=0;i<=200;i++){const t=xd[0]+(xd[1]-xd[0])*i/200;d+=(i?'L':'M')+ax.sx(t).toFixed(1)+','+ax.sy(tmodel(t,bs,depth[k],c)).toFixed(1);}
    const p=mk('path',{d:d,fill:'none',stroke:k===0?'#777':'#555','stroke-width':1},g);
    
    
    const lt=mk('text',{x:b.x+10,y:ax.sy(labelY[k]),'font-size':10},g);lt.textContent=names[k];
    
    
    if(dates[k]){const dt=mk('text',{x:b.x+b.w-8,y:ax.sy(labelY[k]),'font-size':10,'text-anchor':'end'},g);dt.textContent=dates[k];
      
      }
  });
  flips.forEach(f=>{const x=ax.sx(f[0]);mk('line',{x1:x,x2:x,y1:ax.sy(f[1]+0.003),y2:ax.sy(f[1]-0.006),stroke:'#777','stroke-dasharray':'1.5,1.5','stroke-width':1},g);});
  ylabel(g,b.x-48,b.y+b.h/2,'Relative flux',9.5);
  return g;
}
function rvPanel(name,b,yd,xt,yt,K,sets,extraShift){
  const g=mk('g',{},SVG);
  
  
  const ax=frame(g,b,[0.49,1.5],yd,xt,yt,10);
  mk('line',{x1:b.x,x2:b.x+b.w,y1:ax.sy(0),y2:ax.sy(0),stroke:'#aaa','stroke-dasharray':'1,2'},g);
  let d='';for(let i=0;i<=200;i++){const ph=0.49+1.01*i/200;d+=(i?'L':'M')+ax.sx(ph).toFixed(1)+','+ax.sy(-K[0]*Math.sin(2*Math.PI*ph)).toFixed(1);}
  const ml=mk('path',{d:d,fill:'none',stroke:'#333','stroke-width':1},g);
  
  
  if(extraShift){let d2='';for(let i=0;i<=200;i++){const ph=0.49+1.01*i/200;d2+=(i?'L':'M')+ax.sx(ph).toFixed(1)+','+ax.sy(-K[0]*0.97*Math.sin(2*Math.PI*(ph-extraShift))).toFixed(1);}
    mk('path',{d:d2,fill:'none',stroke:'#999','stroke-width':1,'stroke-dasharray':'3,2'},g);}
  sets.forEach(s=>{s.ph.forEach((p,i)=>{const x=ax.sx(p),y=ax.sy(s.v[i]);const e=ax.sy(s.v[i]-s.err)-y;
    mk('line',{x1:x,x2:x,y1:y-e,y2:y+e,stroke:s.col,'stroke-width':1},g);
    const c=mk('circle',{cx:x,cy:y,r:2.2,fill:s.col},g);
    
    });});
  ylabel(g,b.x-44,b.y+b.h/2,'Relative radial velocity / m s\u207B\u00B9',9.5);
  xlabel(g,b.x+b.w/2,b.y+b.h+21,'Orbital phase',10);
  return g;
}
function cmapColor(t){
  const st=[[0,[30,30,60]],[0.2,[36,36,200]],[0.4,[138,48,224]],[0.55,[224,64,192]],[0.7,[255,106,128]],[0.85,[255,168,48]],[1,[255,255,68]]];
  t=Math.max(0,Math.min(1,t));
  for(let i=1;i<st.length;i++){if(t<=st[i][0]){const a=st[i-1],b=st[i];const f=(t-a[0])/(b[0]-a[0]);
    return 'rgb('+a[1].map((c,j)=>Math.round(c+(b[1][j]-c)*f)).join(',')+')';}}
  return 'rgb(255,255,68)';
}
function bisPanel(name,b,xd,yd,xt,yt,rv,bs,err,jd,cbt,fit,label,xerr){
  const g=mk('g',{},SVG);
  
  
  const ax=frame(g,b,xd,yd,xt,yt,10);
  const lines=[[fit[0],fit[1],'#333','none'],[fit[0]+fit[2],fit[1]-fit[3],'#999','2,2'],[fit[0]-fit[2],fit[1]+fit[3],'#999','2,2']];
  lines.forEach(L=>{const fl=mk('line',{x1:ax.sx(xd[0]),x2:ax.sx(xd[1]),y1:ax.sy(L[0]+L[1]*xd[0]),y2:ax.sy(L[0]+L[1]*xd[1]),stroke:L[2],'stroke-width':1,'stroke-dasharray':L[3]},g);
    
    });
  const cmin=cbt[0],cmax=cbt[cbt.length-1];
  rv.forEach((v,i)=>{const x=ax.sx(v),y=ax.sy(bs[i]);
    mk('line',{x1:x,x2:x,y1:ax.sy(bs[i]-err[i]),y2:ax.sy(bs[i]+err[i]),stroke:'#999','stroke-width':1.6},g);
    mk('line',{x1:ax.sx(v-xerr),x2:ax.sx(v+xerr),y1:y,y2:y,stroke:'#999','stroke-width':1.6},g);
    const c=mk('circle',{cx:x,cy:y,r:2.6,fill:cmapColor((jd[i]-cmin)/(cmax-cmin))},g);
    
    });
  const lt=mk('text',{x:b.x+b.w-4,y:b.y+14,'font-size':10,'text-anchor':'end'},g);lt.textContent=label;
  
  
  // colorbar
  const cbx=b.x+b.w+5;
  const cb=mk('rect',{x:cbx,y:b.y,width:10,height:b.h,fill:'url(#cmap)',stroke:'#000','stroke-width':0.8},g);
  
  
  cbt.forEach(v=>{const y=b.y+b.h-(v-cmin)/(cmax-cmin)*b.h;
    mk('line',{x1:cbx+7,x2:cbx+10,y1:y,y2:y,stroke:'#000','stroke-width':0.8},g);
    const t=mk('text',{x:cbx+18,y:y+3.5,'font-size':10},g);t.textContent=String(v);
    
    });
  ylabel(g,cbx+57,b.y+b.h/2,'JD - 2450000',9.5);
  ylabel(g,b.x-44,b.y+b.h/2,'Bisector span / m s\u207B\u00B9',9.5);
  xlabel(g,b.x+b.w/2,b.y+b.h+27,'Relative radial velocity / m s\u207B\u00B9',10);
  return g;
}

// ---------- draw ----------
topPanel('figure-1-top-panel',{x:1064,y:172,w:255,h:56},f1TopXTicks,f1TopYTicks,[0.970,1.020],0.0066,f1Contacts);
midPanel('figure-1-lightcurves',{x:1064,y:249,w:255,h:438},[0.97,1.03],[0.93,1.015],f1MidXTicks,f1MidYTicks,f1Names,f1Dates,f1Base,f1Depth,f1LabelY,f1Noise,f1Start,f1End,f1Count,f1Contacts,[COL.wasp,COL.trap,COL.euler,COL.euler],[[1.0055,0.9715]]);
rvPanel('figure-1-rv-panel',{x:1064,y:709,w:255,h:188},[-600,697],f1RvXTicks,f1RvYTicks,f1K,[{ph:f1RvPhaseRed,v:f1RvRed,err:30,col:'#b22222'},{ph:f1RvPhaseBlue,v:f1RvBlue,err:35,col:'#1c1c9c'}],0.02);

topPanel('figure-2-top-panel',{x:1447,y:172,w:254,h:56},f2TopXTicks,f2TopYTicks,[0.970,1.020],0.012,f2Contacts);
midPanel('figure-2-lightcurves',{x:1447,y:249,w:254,h:478},[0.94,1.06],[0.9,1.02],f2MidXTicks,f2MidYTicks,f2Names,f2Dates,f2Base,f2Depth,f2LabelY,f2Noise,f2Start,f2End,f2Count,f2Contacts,[COL.wasp,COL.trap,COL.trap,COL.euler,COL.euler],[[1.031,0.974]]);
rvPanel('figure-2-rv-panel',{x:1447,y:748,w:254,h:149},[-250,243],f2RvXTicks,f2RvYTicks,f2K,[{ph:f2RvPhase,v:f2Rv,err:8,col:'#b22222'}],0);

topPanel('figure-3-top-panel',{x:1992,y:222,w:254,h:55},f3TopXTicks,f3TopYTicks,[0.971,1.020],0.012,f3Contacts);
midPanel('figure-3-lightcurves',{x:1992,y:298,w:254,h:477},[0.96,1.04],[0.89,1.03],f3MidXTicks,f3MidYTicks,f3Names,f3Dates,f3Base,f3Depth,f3LabelY,f3Noise,f3Start,f3End,f3Count,f3Contacts,[COL.wasp,COL.euler,COL.trap,COL.trap],[]);
rvPanel('figure-3-rv-panel',{x:1992,y:796,w:254,h:150},[-150,150],f3RvXTicks,f3RvYTicks,f3K,[{ph:f3RvPhase,v:f3Rv,err:7,col:'#b22222'}],0);

bisPanel('figure-4-wasp120',{x:2377,y:176,w:207,h:208},[-600,600],[-447,447],f4aXTicks,f4aYTicks,f4aRV,f4aBS,f4aErr,f4aJD,f4aCbTicks,f4aFit,'WASP\u2212120',30);
bisPanel('figure-4-wasp122',{x:2377,y:428,w:207,h:215},[-225,225],[-75,75],f4bXTicks,f4bYTicks,f4bRV,f4bBS,f4bErr,f4bJD,f4bCbTicks,f4bFit,'WASP\u2212122',6);
bisPanel('figure-4-wasp123',{x:2377,y:685,w:207,h:212},[-150,150],[-74,25],f4cXTicks,f4cYTicks,f4cRV,f4cBS,f4cErr,f4cJD,f4cCbTicks,f4cFit,'WASP\u2212123',6);
</script>
</body></html>
